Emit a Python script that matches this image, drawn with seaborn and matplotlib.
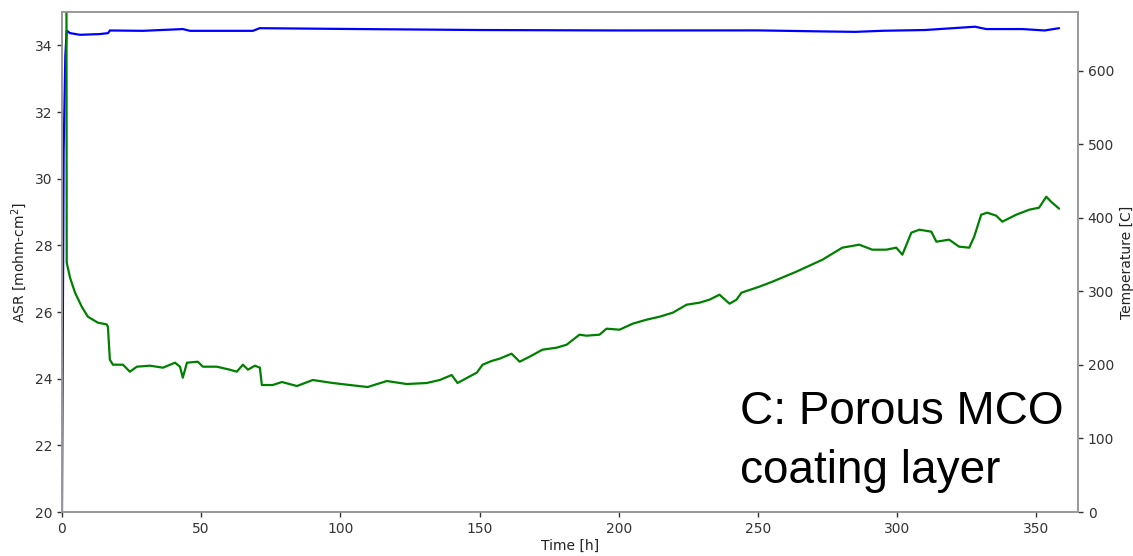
import matplotlib
matplotlib.use("Agg")
import matplotlib.pyplot as plt
import seaborn as sns
import pandas as pd

# ---- data ----
asr_time = [1.6, 1.7, 2.9, 4.7, 7.1, 9.3, 12.9, 16.0, 16.5, 17.2, 18.3, 21.9, 24.4, 26.9,
            31.6, 36.3, 40.6, 42.4, 43.4, 44.9, 48.8, 50.6, 55.6, 60.3, 62.8, 65.0, 66.8,
            69.3, 71.1, 71.8, 75.7, 79.0, 84.4, 90.1, 97.3, 103.4, 109.8, 116.7, 123.8,
            131.0, 135.7, 140.0, 142.1, 145.4, 149.0, 151.1, 154.3, 157.2, 161.5, 164.4,
            168.0, 172.6, 177.7, 181.3, 185.9, 188.4, 193.1, 195.6, 200.3, 205.0, 210.0,
            214.7, 219.4, 224.4, 229.0, 232.6, 236.2, 239.8, 242.3, 244.1, 250.5, 255.2,
            263.8, 273.2, 280.3, 286.4, 291.1, 296.1, 299.7, 301.9, 305.1, 308.0, 312.3,
            314.1, 318.7, 322.3, 325.9, 327.7, 330.2, 332.4, 335.6, 337.8, 342.8, 347.5,
            351.0, 353.6, 355.3, 358.2]
asr_value = [36.5, 27.48, 27.03, 26.58, 26.16, 25.86, 25.68, 25.63, 25.56, 24.57, 24.42,
             24.42, 24.21, 24.36, 24.39, 24.33, 24.48, 24.36, 24.03, 24.48, 24.51, 24.36,
             24.36, 24.27, 24.21, 24.42, 24.27, 24.39, 24.33, 23.81, 23.81, 23.90, 23.78,
             23.96, 23.87, 23.81, 23.75, 23.93, 23.84, 23.87, 23.96, 24.11, 23.87, 24.02,
             24.18, 24.42, 24.53, 24.60, 24.75, 24.51, 24.66, 24.87, 24.93, 25.02, 25.32,
             25.29, 25.32, 25.50, 25.47, 25.65, 25.77, 25.86, 25.98, 26.22, 26.28, 26.37,
             26.52, 26.25, 26.37, 26.58, 26.76, 26.91, 27.21, 27.57, 27.93, 28.02, 27.87,
             27.87, 27.93, 27.72, 28.38, 28.47, 28.41, 28.11, 28.17, 27.96, 27.93, 28.26,
             28.92, 28.98, 28.89, 28.71, 28.92, 29.07, 29.13, 29.46, 29.31, 29.10]

temp_time = [0.0, 0.3, 0.6, 1.2, 1.7, 2.9, 6.5, 13.6, 16.6, 17.2, 29.0, 43.4, 46.0, 68.6,
             71.0, 107.0, 150.0, 200.0, 250.0, 275.0, 285.0, 295.0, 310.0, 322.0, 328.0,
             332.0, 345.0, 353.0, 358.2]
temp_value = [0, 250, 490, 620, 654.6, 651.3, 649.0, 650.0, 651.3, 654.9, 654.4, 656.8,
              654.4, 654.4, 658.0, 656.8, 655.5, 654.9, 655.0, 653.5, 653.0, 654.5, 655.5,
              658.5, 660.0, 656.8, 656.8, 654.9, 658.0]

asr_ticks = [20, 22, 24, 26, 28, 30, 32, 34]
temp_ticks = [0, 100, 200, 300, 400, 500, 600]
time_ticks = [0, 50, 100, 150, 200, 250, 300, 350]

asr_df = pd.DataFrame({"Time [h]": asr_time, "ASR": asr_value})
temp_df = pd.DataFrame({"Time [h]": temp_time, "Temperature": temp_value})

sns.set_style("ticks")
plt.rcParams["font.family"] = ["DejaVu Sans"]

fig = plt.figure(figsize=(11.33, 5.56), dpi=100)
ax = fig.add_axes([0.0547, 0.0791, 0.8968, 0.8993])
ax2 = ax.twinx()

sns.lineplot(data=temp_df, x="Time [h]", y="Temperature", ax=ax2, color="#0000ff",
             linewidth=1.6, estimator=None, sort=False)
sns.lineplot(data=asr_df, x="Time [h]", y="ASR", ax=ax, color="#008000",
             linewidth=1.6, estimator=None, sort=False)

# green line drawn above blue
ax.set_zorder(ax2.get_zorder() + 1)
ax.patch.set_visible(False)

ax.set_xlim(0, 365)
ax.set_ylim(20, 35)
ax2.set_ylim(0, 680)
ax.set_xticks(time_ticks)
ax.set_yticks(asr_ticks)
ax2.set_yticks(temp_ticks)

ax.set_xlabel("Time [h]", fontsize=10, color="#222222", labelpad=2)
ax.set_ylabel("ASR [mohm-cm$^2$]", fontsize=10, color="#222222", labelpad=4)
ax2.set_ylabel("Temperature [C]", fontsize=10, color="#222222", labelpad=4)

for a in (ax, ax2):
    a.tick_params(labelsize=10, colors="#333333", length=3.5, width=1, direction="out")
    for s in a.spines.values():
        s.set_color("#999999")
        s.set_linewidth(1.2)

fig.text(0.653, 0.114, "C: Porous MCO\ncoating layer", fontsize=33,
         family=["Liberation Sans", "DejaVu Sans"], color="black",
         ha="left", va="bottom", linespacing=1.42)

fig.savefig("out.png", dpi=100)
